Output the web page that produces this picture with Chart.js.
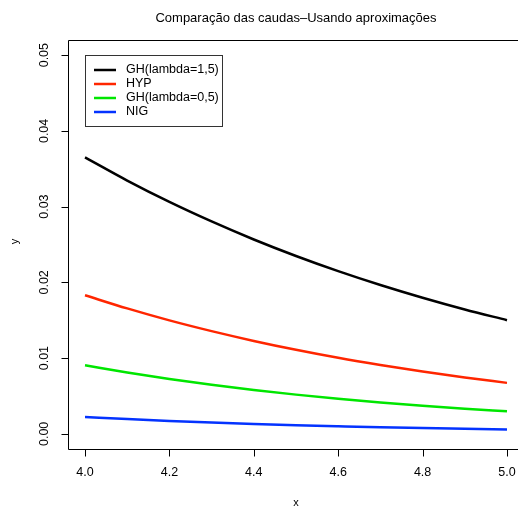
<!DOCTYPE html>
<html>
<head>
<meta charset="utf-8">
<script src="https://cdn.jsdelivr.net/npm/chart.js@4/dist/chart.umd.min.js"></script>
<style>
  html, body { margin: 0; padding: 0; overflow: hidden; background: #fff; }
</style>
</head>
<body>
<canvas id="chart" width="518" height="507"></canvas>
<script>
// values
const xs = [4.0, 4.1, 4.2, 4.3, 4.4, 4.5, 4.6, 4.7, 4.8, 4.9, 5.0];
const gh15 = [0.0365, 0.03344, 0.03062, 0.02804, 0.02566, 0.02348, 0.02148, 0.01965, 0.01797, 0.01642, 0.01501];
const hyp = [0.0183, 0.01656, 0.01498, 0.01356, 0.01227, 0.0111, 0.01004, 0.00909, 0.00822, 0.00744, 0.00673];
const gh05 = [0.00906, 0.0081, 0.00724, 0.00647, 0.00579, 0.00518, 0.00464, 0.00415, 0.00372, 0.00333, 0.00298];
const nig = [0.00224, 0.00195, 0.0017, 0.00149, 0.0013, 0.00114, 0.001, 0.00087, 0.00077, 0.00067, 0.00059];

const seriesNames = ["GH(lambda=1,5)", "HYP", "GH(lambda=0,5)", "NIG"];
const seriesColors = ["#000000", "#ff2600", "#00e600", "#0433ff"];
const xTicks = [4.0, 4.2, 4.4, 4.6, 4.8, 5.0];
const yTicks = [0.0, 0.01, 0.02, 0.03, 0.04, 0.05];

const titleText = "Comparação das caudas\u2013Usando aproximações";
const FONT = '"Liberation Sans", Arial, Helvetica, sans-serif';

const toPoints = (arr) => xs.map((x, i) => ({ x, y: arr[i] }));

// R draws the box 4% past the data range; its right edge falls off the picture
const rStyle = {
  id: "rStyle",
  afterDraw(chart) {
    const { ctx, chartArea: a, scales } = chart;
    const sx = scales.x, sy = scales.y;
    ctx.save();
    ctx.strokeStyle = "#000";
    ctx.fillStyle = "#000";
    ctx.lineWidth = 1;

    const L = Math.round(a.left) + 0.5, T = Math.round(a.top) + 0.5, B = Math.round(a.bottom) + 0.5;
    ctx.beginPath();
    ctx.moveTo(chart.width + 2, T);
    ctx.lineTo(L, T);
    ctx.lineTo(L, B);
    ctx.lineTo(chart.width + 2, B);
    ctx.stroke();

    // x axis ticks
    ctx.font = "12.5px " + FONT;
    ctx.textAlign = "center";
    ctx.textBaseline = "middle";
    ctx.beginPath();
    xTicks.forEach((t) => {
      const px = Math.round(sx.getPixelForValue(t)) + 0.5;
      ctx.moveTo(px, B);
      ctx.lineTo(px, B + 7);
    });
    ctx.stroke();
    xTicks.forEach((t) => ctx.fillText(t.toFixed(1), sx.getPixelForValue(t), a.bottom + 24));

    // y axis ticks
    ctx.beginPath();
    yTicks.forEach((t) => {
      const py = Math.round(sy.getPixelForValue(t)) + 0.5;
      ctx.moveTo(L, py);
      ctx.lineTo(L - 7, py);
    });
    ctx.stroke();
    yTicks.forEach((t) => {
      ctx.save();
      ctx.translate(a.left - 23, sy.getPixelForValue(t));
      ctx.rotate(-Math.PI / 2);
      ctx.fillText(t.toFixed(2), 0, 0);
      ctx.restore();
    });

    // axis titles
    ctx.font = "11px " + FONT;
    const xMid = (sx.getPixelForValue(4.0) + sx.getPixelForValue(5.0)) / 2;
    ctx.fillText("x", xMid, 503);
    ctx.save();
    ctx.translate(15, (a.top + a.bottom) / 2 - 3);
    ctx.rotate(-Math.PI / 2);
    ctx.fillText("y", 0, 0);
    ctx.restore();

    // main title
    ctx.font = "13px " + FONT;
    ctx.fillText(titleText, xMid, 18);

    // legend
    ctx.font = "12.5px " + FONT;
    ctx.strokeStyle = "#333";
    ctx.strokeRect(85.5, 55.5, 137, 71);
    ctx.textAlign = "left";
    seriesNames.forEach((name, i) => {
      const ly = 70 + i * 14;
      ctx.strokeStyle = seriesColors[i];
      ctx.lineWidth = 2.5;
      ctx.beginPath();
      ctx.moveTo(94, ly);
      ctx.lineTo(116, ly);
      ctx.stroke();
      ctx.fillStyle = "#000";
      ctx.fillText(name, 126, ly);
    });
    ctx.restore();
  },
};

const datasets = [gh15, hyp, gh05, nig].map((arr, i) => ({
  label: seriesNames[i],
  data: toPoints(arr),
  borderColor: seriesColors[i],
  borderWidth: 2.5,
  pointRadius: 0,
  fill: false,
  cubicInterpolationMode: "monotone",
}));

new Chart(document.getElementById("chart"), {
  type: "line",
  data: { datasets },
  options: {
    responsive: false,
    animation: false,
    layout: { padding: { left: 68, top: 40, right: 0, bottom: 58 } },
    plugins: { legend: { display: false }, title: { display: false }, tooltip: { enabled: false } },
    scales: {
      // 4.0 at x=85 and 5.0 at x=507 as in the reference
      x: { type: "linear", display: false, min: 3.9597, max: 5.0261 },
      y: { type: "linear", display: false, min: -0.002, max: 0.052 },
    },
  },
  plugins: [rStyle],
});
</script>
</body>
</html>
